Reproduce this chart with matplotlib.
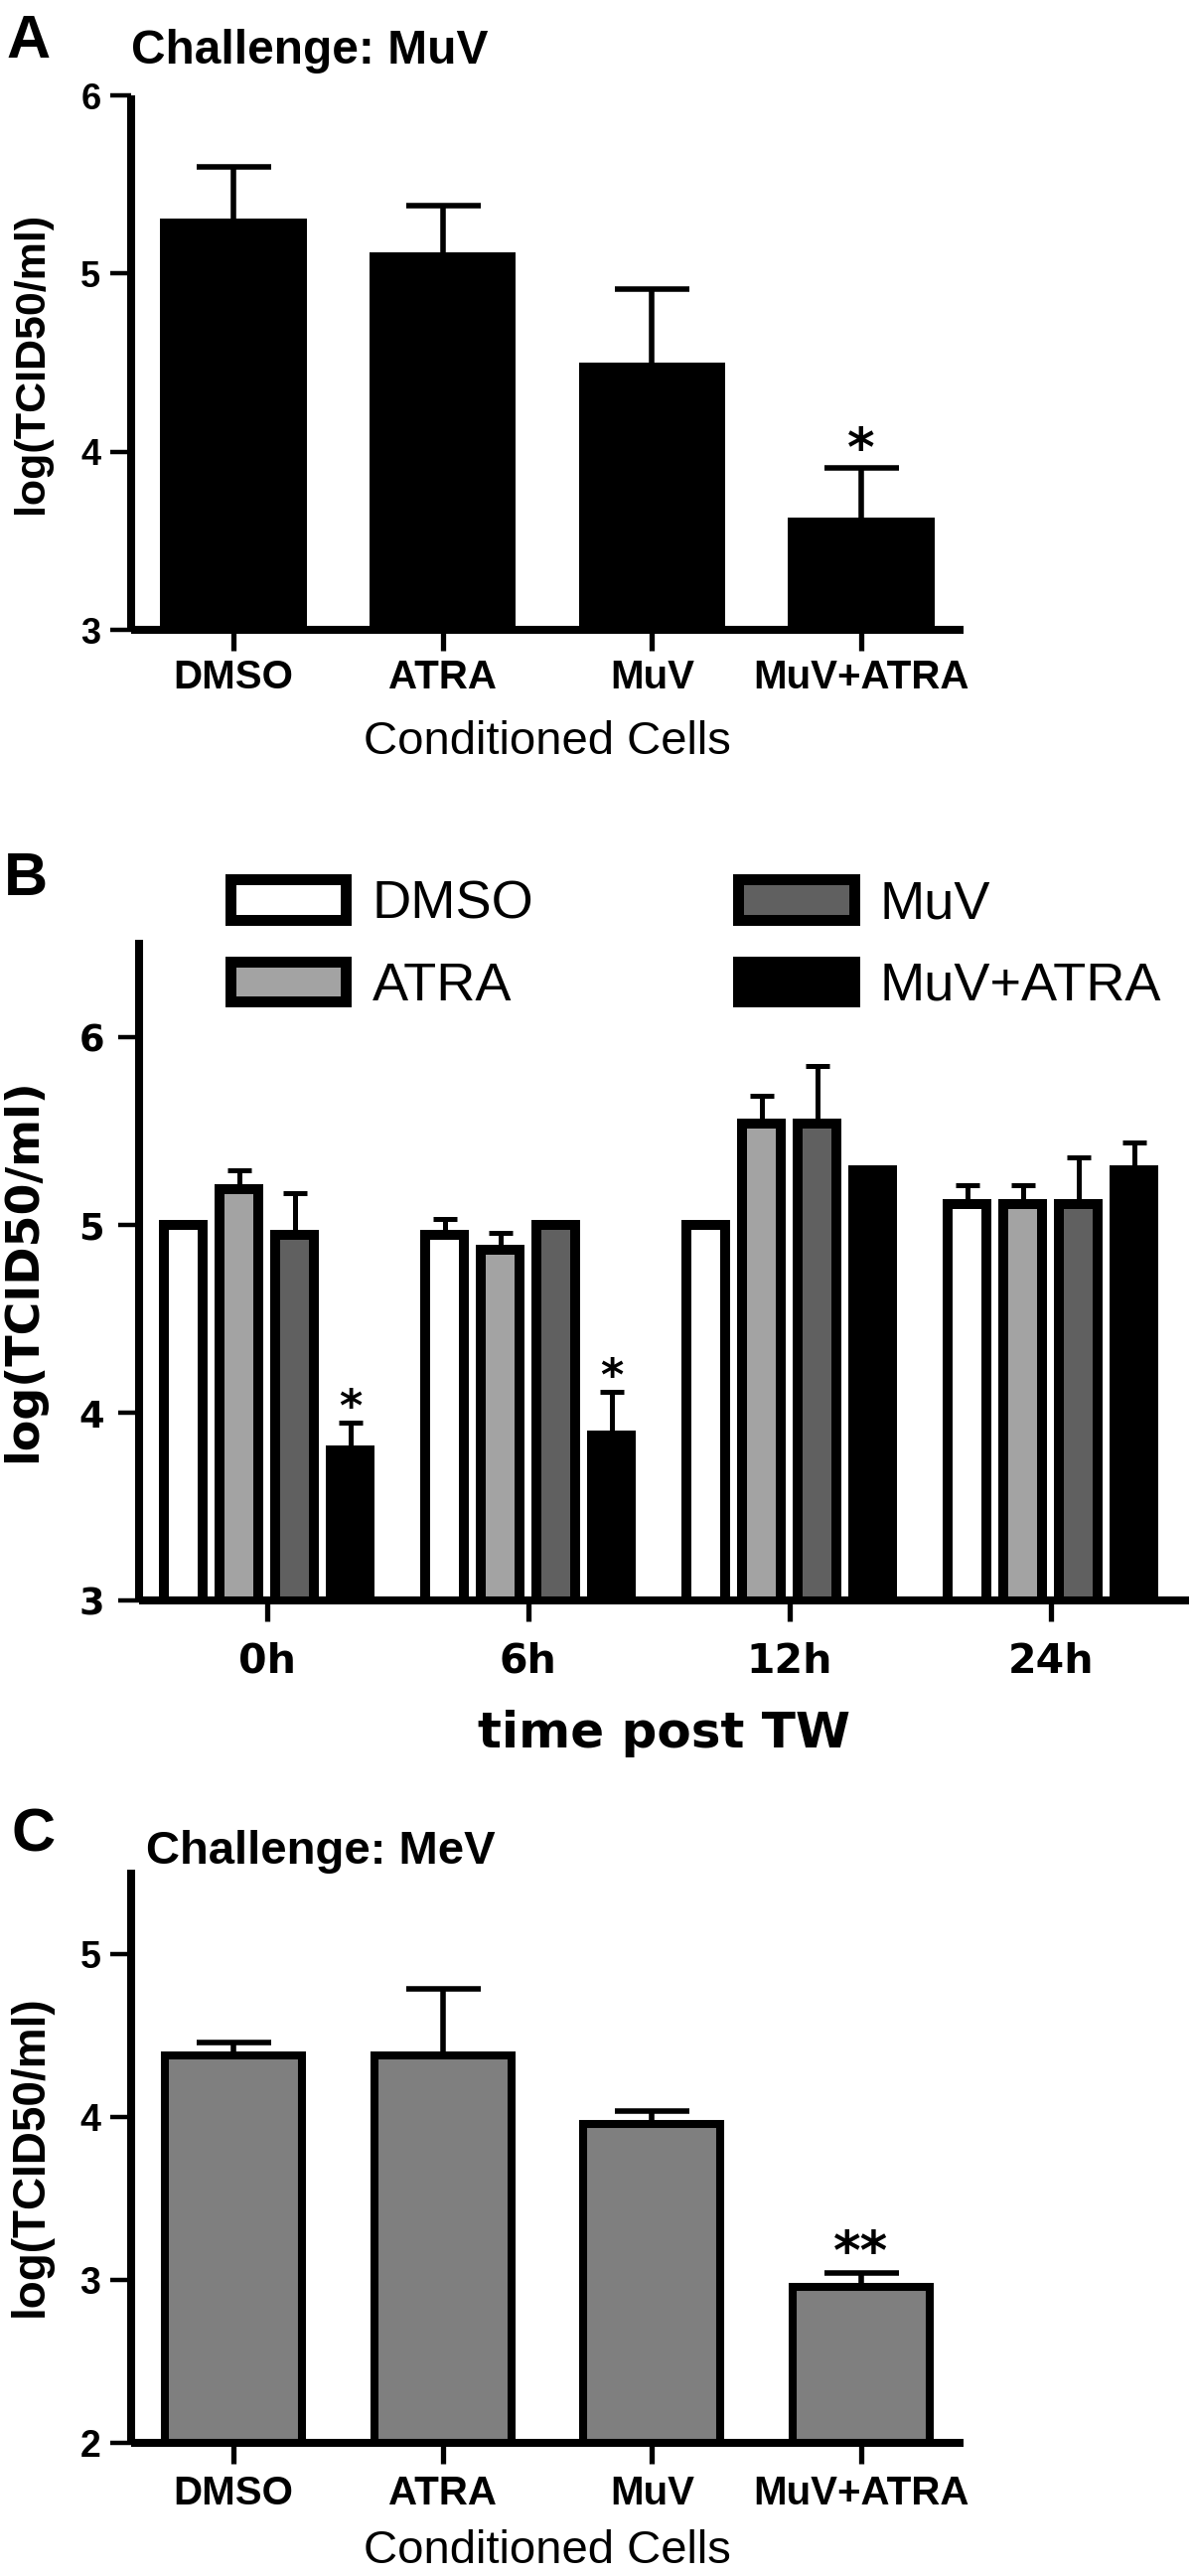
import numpy as np
import matplotlib
matplotlib.use('Agg')
from matplotlib import pyplot as plt
from matplotlib.patches import Patch

# panel A - challenge with MuV
cells = ['DMSO', 'ATRA', 'MuV', 'MuV+ATRA']
muv_mean = [5.31, 5.12, 4.50, 3.63]
muv_err = [0.29, 0.26, 0.41, 0.28]
muv_sig = ['', '', '', '*']

# panel B - time post TW
times = ['0h', '6h', '12h', '24h']
groups = ['DMSO', 'ATRA', 'MuV', 'MuV+ATRA']
tw_dmso = [5.00, 4.95, 5.00, 5.11]
tw_dmso_err = [0.0, 0.08, 0.0, 0.10]
tw_atra = [5.19, 4.87, 5.54, 5.11]
tw_atra_err = [0.10, 0.09, 0.15, 0.10]
tw_muv = [4.95, 5.00, 5.54, 5.11]
tw_muv_err = [0.22, 0.0, 0.31, 0.25]
tw_muvatra = [3.80, 3.88, 5.29, 5.29]
tw_muvatra_err = [0.15, 0.23, 0.0, 0.15]
tw_sig = ['*', '*', '', '']
group_colors = ['white', '#a3a3a3', '#606060', 'black']

# panel C - challenge with MeV
mev_mean = [4.38, 4.38, 3.96, 2.96]
mev_err = [0.08, 0.41, 0.08, 0.085]
mev_sig = ['', '', '', '**']

W, H = 1200, 2593
fig = plt.figure(figsize=(W/100, H/100), dpi=100)

def rect(l, t, r, b):
    return [l/W, 1-b/H, (r-l)/W, (b-t)/H]

def style_axes(ax, spine_lw=5.8):
    for s in ['top', 'right']:
        ax.spines[s].set_visible(False)
    for s in ['left', 'bottom']:
        ax.spines[s].set_linewidth(spine_lw)
        ax.spines[s].set_capstyle('butt')

def err(ax, x, y, e, cap, lw):
    # upper error only, no cap at the bar top
    x = np.asarray(x, float); y = np.asarray(y, float); e = np.asarray(e, float)
    m = e > 0
    cont = ax.errorbar(x[m], y[m], yerr=[np.zeros(m.sum()), e[m]], fmt='none', ecolor='black',
                       elinewidth=lw, capsize=cap, capthick=lw, zorder=1.5)
    for cl in cont[1]:
        if np.allclose(cl.get_ydata(), y[m]):
            cl.set_visible(False)

sans = 'Liberation Sans'

# ---------------- A ----------------
axA = fig.add_axes(rect(132, 96, 970, 634))
x = np.arange(len(cells))
axA.bar(x, muv_mean, width=0.70, color='black', zorder=1)
err(axA, x, muv_mean, muv_err, 27, 4.0)
for i, s in enumerate(muv_sig):
    if s:
        axA.text(x[i], muv_mean[i] + muv_err[i] + 0.01, s, ha='center', va='baseline',
                 fontsize=38, fontweight='bold', family='DejaVu Sans')
axA.set_xlim(-0.49, 3.49)
axA.set_ylim(3, 6)
style_axes(axA)
axA.set_xticks(x, cells, fontsize=29, fontweight='bold', family=sans)
axA.set_yticks([3, 4, 5, 6], ['3', '4', '5', '6'], fontsize=26, fontweight='bold', family=sans)
axA.tick_params(axis='x', length=15, width=3.8, pad=6)
axA.tick_params(axis='y', length=15, width=3.2, pad=7)
axA.set_xlabel('Conditioned Cells', fontsize=34, family=sans)
axA.xaxis.set_label_coords(0.5, -0.17)
axA.set_ylabel('log(TCID50/ml)', fontsize=31, fontweight='bold', family=sans)
axA.yaxis.set_label_coords(-0.095, 0.5)
fig.text(132/W, 1-64/H, 'Challenge: MuV', fontsize=34.5, fontweight='bold', family=sans, va='baseline')
fig.text(6/W, 1-58/H, 'A', fontsize=44, fontweight='bold', family=sans, va='baseline')

# ---------------- B ----------------
axB = fig.add_axes(rect(140, 946, 1197, 1611))
xg = np.arange(len(times))
pitch = 0.213
series = [(tw_dmso, tw_dmso_err), (tw_atra, tw_atra_err), (tw_muv, tw_muv_err), (tw_muvatra, tw_muvatra_err)]
for k, (vals, errs) in enumerate(series):
    xs = xg + (k - 1.5) * pitch
    axB.bar(xs, vals, width=0.148, color=group_colors[k], edgecolor='black', linewidth=7.2, zorder=1)
    err(axB, xs, vals, errs, 8.5, 3.6)
xs = xg + 1.5 * pitch
for i, s in enumerate(tw_sig):
    if s:
        axB.text(xs[i], tw_muvatra[i] + tw_muvatra_err[i] + 0.01, s, ha='center', va='baseline',
                 fontsize=32, fontweight='bold', family='DejaVu Sans')
axB.set_xlim(-0.49, 3.53)
axB.set_ylim(3, 6.52)
style_axes(axB)
axB.set_xticks(xg, times, fontsize=29.5, fontweight='bold', family='DejaVu Sans')
axB.set_yticks([3, 4, 5, 6], ['3', '4', '5', '6'], fontsize=26.5, fontweight='bold', family='DejaVu Sans')
axB.tick_params(axis='x', length=15, width=3.8, pad=15)
axB.tick_params(axis='y', length=15, width=3.2, pad=10)
axB.set_xlabel('time post TW', fontsize=36, fontweight='bold', family='DejaVu Sans')
axB.xaxis.set_label_coords(0.5, -0.165)
axB.set_ylabel('log(TCID50/ml)', fontsize=33, fontweight='bold', family='DejaVu Sans')
axB.yaxis.set_label_coords(-0.089, 0.5)
handles = [Patch(facecolor=c, edgecolor='black', linewidth=7.9, joinstyle='round') for c in group_colors]
axB.legend(handles, groups, ncol=2, loc='upper left', bbox_to_anchor=(232/W, 1-885/H),
           bbox_transform=fig.transFigure, frameon=False, prop={'family': sans, 'size': 39},
           handlelength=2.15, handleheight=0.78, handletextpad=0.48, columnspacing=3.8,
           labelspacing=0.6, borderpad=0, borderaxespad=0)
fig.text(4/W, 1-901/H, 'B', fontsize=44, fontweight='bold', family=sans, va='baseline')

# ---------------- C ----------------
axC = fig.add_axes(rect(132, 1882, 970, 2459))
axC.bar(x, mev_mean, width=0.657, color='#7f7f7f', edgecolor='black', linewidth=5.8, zorder=1)
err(axC, x, mev_mean, mev_err, 27, 4.0)
for i, s in enumerate(mev_sig):
    if s:
        axC.text(x[i], mev_mean[i] + mev_err[i] + 0.02, s, ha='center', va='baseline',
                 fontsize=38, fontweight='bold', family='DejaVu Sans')
axC.set_xlim(-0.49, 3.49)
axC.set_ylim(2, 5.52)
style_axes(axC)
axC.set_xticks(x, cells, fontsize=29, fontweight='bold', family=sans)
axC.set_yticks([2, 3, 4, 5], ['2', '3', '4', '5'], fontsize=27, fontweight='bold', family=sans)
axC.tick_params(axis='x', length=15, width=3.8, pad=8)
axC.tick_params(axis='y', length=15, width=3.2, pad=7)
axC.set_xlabel('Conditioned Cells', fontsize=34, family=sans)
axC.xaxis.set_label_coords(0.5, -0.15)
axC.set_ylabel('log(TCID50/ml)', fontsize=33, fontweight='bold', family=sans)
axC.yaxis.set_label_coords(-0.095, 0.5)
fig.text(147/W, 1-1876/H, 'Challenge: MeV', fontsize=34, fontweight='bold', family=sans, va='baseline')
fig.text(12/W, 1-1864/H, 'C', fontsize=44, fontweight='bold', family=sans, va='baseline')

fig.savefig('out.png', dpi=100)
